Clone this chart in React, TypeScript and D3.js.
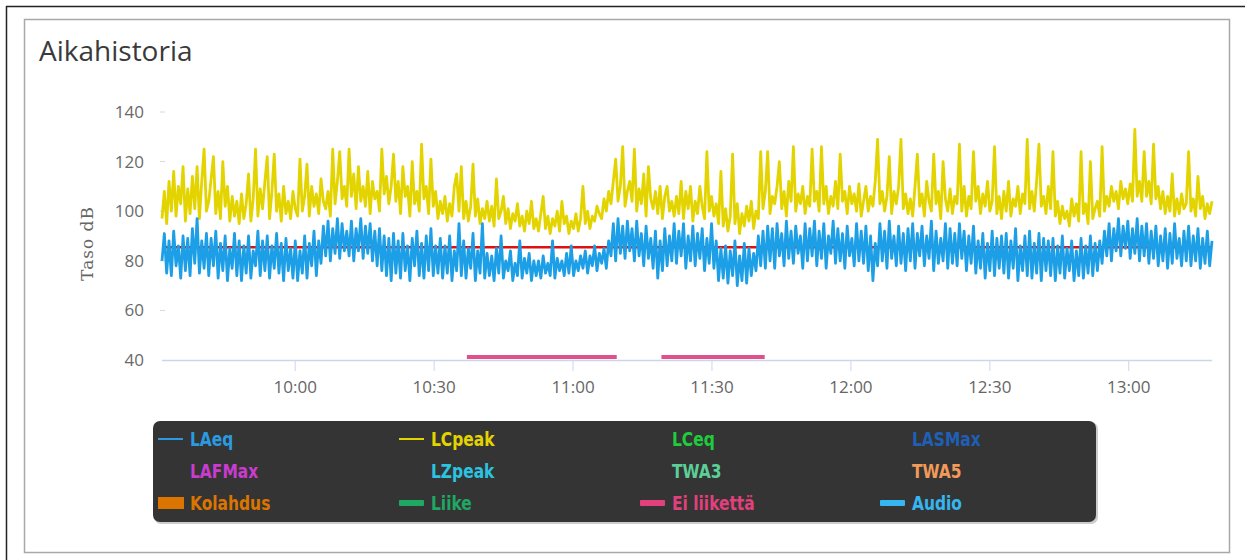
import React, { useEffect, useRef } from 'react'

import * as d3 from 'd3'

// sampling of the level meter
const startTime = new Date(2020, 0, 1, 9, 31, 14)
const stepSeconds = 30.3

// LCpeak, dB (yellow)
const lcpeak = [
  97, 108, 95, 112, 100, 116, 98, 110, 103, 118, 96, 109, 99, 114, 101, 118, 97, 112, 125, 100,
  104, 113, 122, 99, 108, 97, 120, 102, 110, 96, 106, 98, 104, 95, 107, 97, 103, 115, 96, 105,
  125, 98, 109, 101, 112, 122, 97, 108, 123, 100, 107, 96, 110, 99, 104, 97, 108, 101, 98, 121,
  100, 106, 119, 98, 110, 102, 107, 99, 113, 104, 101, 108, 98, 125, 103, 112, 124, 105, 110, 102,
  125, 106, 115, 101, 118, 104, 110, 102, 116, 99, 112, 105, 108, 100, 125, 107, 114, 103, 110, 123,
  104, 112, 99, 118, 106, 110, 98, 120, 103, 108, 100, 127, 105, 110, 99, 121, 102, 108, 97, 104,
  99, 106, 96, 103, 98, 110, 115, 100, 118, 97, 104, 96, 102, 119, 98, 105, 95, 101, 97, 104,
  96, 102, 94, 113, 97, 100, 106, 95, 101, 93, 99, 96, 103, 94, 98, 92, 100, 95, 104, 93,
  97, 92, 99, 106, 93, 98, 91, 97, 94, 100, 92, 104, 95, 98, 91, 96, 93, 99, 92, 97,
  110, 95, 100, 93, 98, 96, 102, 99, 97, 105, 100, 108, 103, 112, 121, 104, 110, 126, 102, 108,
  112, 104, 125, 100, 109, 103, 115, 98, 118, 105, 101, 108, 99, 110, 97, 106, 110, 100, 104, 98,
  106, 99, 112, 97, 108, 101, 110, 96, 104, 99, 110, 102, 97, 124, 100, 106, 98, 103, 95, 116,
  94, 101, 92, 98, 123, 95, 103, 91, 99, 94, 102, 96, 104, 93, 100, 97, 124, 101, 108, 124,
  99, 106, 103, 110, 120, 101, 108, 98, 112, 104, 126, 100, 107, 103, 110, 99, 106, 102, 125, 104,
  108, 100, 126, 103, 110, 99, 106, 102, 112, 101, 123, 104, 108, 99, 110, 103, 107, 100, 111, 98,
  104, 110, 100, 106, 102, 112, 129, 103, 108, 100, 106, 122, 99, 108, 103, 110, 129, 101, 107, 99,
  105, 98, 110, 123, 102, 107, 98, 112, 104, 100, 123, 103, 108, 97, 120, 105, 100, 109, 99, 106,
  103, 127, 100, 110, 98, 106, 101, 124, 104, 110, 99, 107, 102, 112, 100, 104, 126, 99, 106, 97,
  108, 100, 112, 98, 105, 102, 110, 99, 107, 103, 129, 101, 108, 100, 112, 127, 102, 106, 99, 110,
  101, 124, 98, 104, 95, 102, 97, 100, 94, 105, 98, 103, 96, 124, 99, 103, 95, 120, 97, 101,
  104, 98, 126, 100, 106, 102, 110, 104, 108, 101, 112, 105, 109, 103, 111, 104, 133, 106, 112, 104,
  124, 106, 112, 103, 127, 105, 110, 101, 108, 99, 106, 100, 115, 98, 105, 99, 107, 101, 103, 124,
  100, 105, 98, 114, 101, 106, 97, 103, 99, 104,
]

// LAeq, dB (blue)
const laeq = [
  80, 91, 75, 88, 74, 92, 78, 86, 73, 90, 76, 89, 74, 93, 79, 97, 75, 88, 77, 91,
  74, 89, 78, 92, 73, 87, 76, 90, 72, 85, 77, 91, 74, 88, 72, 86, 75, 90, 73, 84,
  78, 92, 74, 88, 76, 90, 73, 86, 77, 91, 75, 87, 72, 89, 76, 85, 73, 88, 72, 84,
  75, 90, 73, 87, 78, 92, 74, 88, 79, 94, 82, 96, 80, 93, 83, 97, 81, 95, 84, 92,
  82, 96, 80, 93, 84, 97, 81, 94, 83, 95, 80, 92, 78, 93, 76, 90, 74, 89, 72, 91,
  75, 88, 73, 91, 76, 86, 72, 89, 78, 92, 74, 87, 73, 90, 76, 93, 74, 86, 75, 89,
  73, 86, 75, 90, 72, 84, 76, 95, 74, 88, 73, 85, 77, 91, 72, 84, 75, 95, 73, 83,
  74, 82, 72, 85, 75, 90, 73, 80, 76, 84, 72, 79, 74, 88, 73, 81, 75, 83, 72, 80,
  74, 80, 73, 82, 75, 79, 74, 88, 73, 81, 76, 80, 74, 83, 75, 86, 74, 80, 76, 82,
  77, 84, 75, 82, 78, 86, 76, 83, 79, 85, 77, 88, 82, 95, 80, 97, 83, 94, 81, 96,
  84, 93, 80, 96, 82, 91, 78, 94, 81, 89, 77, 92, 73, 88, 76, 93, 78, 90, 80, 95,
  79, 92, 82, 95, 77, 90, 80, 94, 78, 91, 81, 93, 76, 89, 79, 95, 77, 88, 72, 85,
  73, 86, 71, 84, 74, 88, 70, 82, 72, 87, 71, 85, 74, 83, 76, 90, 78, 92, 77, 94,
  80, 93, 77, 95, 82, 91, 78, 96, 81, 92, 79, 94, 83, 90, 77, 95, 80, 93, 82, 96,
  78, 92, 81, 95, 77, 90, 83, 96, 79, 93, 80, 91, 77, 94, 82, 89, 78, 95, 80, 92,
  79, 94, 76, 90, 72, 87, 78, 95, 80, 92, 77, 96, 81, 90, 78, 94, 79, 91, 76, 93,
  80, 95, 77, 91, 82, 94, 78, 90, 81, 96, 76, 92, 79, 89, 80, 95, 77, 93, 79, 91,
  78, 95, 81, 92, 76, 90, 79, 94, 75, 88, 77, 91, 73, 87, 76, 92, 74, 89, 77, 90,
  75, 91, 73, 88, 77, 93, 72, 86, 76, 90, 74, 92, 73, 87, 75, 91, 72, 89, 76, 88,
  74, 89, 72, 86, 75, 90, 73, 85, 76, 88, 72, 84, 74, 89, 73, 86, 75, 90, 74, 87,
  76, 88, 79, 92, 82, 95, 80, 93, 84, 97, 82, 94, 85, 96, 81, 93, 83, 97, 80, 94,
  82, 95, 79, 92, 81, 94, 78, 90, 80, 93, 77, 91, 79, 95, 81, 89, 78, 92, 80, 94,
  78, 90, 80, 93, 77, 89, 79, 92, 78, 88,
]

const limitLevel = 85.5

// "Ei liikettä" periods
const noMotionStart = ['10:37:04', '11:19:05']
const noMotionEnd = ['11:09:26', '11:41:23']

const yTicks = [40, 60, 80, 100, 120, 140]

const legendNames = [
  'LAeq', 'LCpeak', 'LCeq', 'LASMax',
  'LAFMax', 'LZpeak', 'TWA3', 'TWA5',
  'Kolahdus', 'Liike', 'Ei liikettä', 'Audio',
]
const legendColors = [
  '#2a9be0', '#e3d400', '#1fcc3e', '#1f5fb5',
  '#c93ccf', '#2bc3e0', '#5ccf98', '#f29a5a',
  '#dc7400', '#1ea862', '#e0407c', '#35b6f0',
]
const legendSymbols = [
  'line', 'line', '', '',
  '', '', '', '',
  'rect', 'bar', 'bar', 'bar',
]

const parseClock = d3.timeParse('%H:%M:%S')
const atDay = (s) => {
  const t = parseClock(s)
  return new Date(2020, 0, 1, t.getHours(), t.getMinutes(), t.getSeconds())
}

const App = () => {
  const svgRef = useRef()

  useEffect(() => {
    document.body.style.margin = '0'
    const width = 1245
    const height = 560
    const plot = { left: 162, right: 1212, top: 112, bottom: 360 }

    const svg = d3.select(svgRef.current)
    svg.selectAll('*').remove()
    svg.attr('width', width).attr('height', height)

    const times = lcpeak.map((_, i) => new Date(startTime.getTime() + i * stepSeconds * 1000))

    const x = d3
      .scaleTime()
      .domain([times[0], times[times.length - 1]])
      .range([plot.left, plot.right])
    const y = d3.scaleLinear().domain([40, 140]).range([plot.bottom, plot.top])

    // frames
    svg.append('line').attr('x1', 6).attr('x2', width).attr('y1', 6.5).attr('y2', 6.5)
      .attr('stroke', '#222').attr('stroke-width', 1.5)
    svg.append('line').attr('x1', 6.5).attr('x2', 6.5).attr('y1', 6).attr('y2', height)
      .attr('stroke', '#222').attr('stroke-width', 1.5)
    svg.append('rect').attr('x', 24.5).attr('y', 19.5).attr('width', 1205).attr('height', 533)
      .attr('fill', 'none').attr('stroke', '#a8a8a8').attr('stroke-width', 1.5)

    // title
    svg.append('text').attr('x', 39).attr('y', 61)
      .style('font-family', '"Open Sans", sans-serif').style('font-size', '28px')
      .attr('fill', '#3a3a3a').text('Aikahistoria')

    // y axis
    const yAxis = svg.append('g')
    yAxis.selectAll('text').data(yTicks).enter().append('text')
      .attr('x', 144).attr('y', (d) => y(d) + 6)
      .attr('text-anchor', 'end')
      .style('font-family', '"Open Sans", sans-serif').style('font-size', '17px')
      .attr('fill', '#6a6a6a').text((d) => d)
    yAxis.selectAll('line').data(yTicks.slice(1)).enter().append('line')
      .attr('x1', 160).attr('x2', 165).attr('y1', (d) => y(d)).attr('y2', (d) => y(d))
      .attr('stroke', '#d8d8d8')
    svg.append('text')
      .attr('transform', `translate(93, ${y(87)}) rotate(-90)`)
      .attr('text-anchor', 'middle')
      .style('font-family', '"DejaVu Serif", serif').style('font-size', '17px')
      .style('letter-spacing', '1px')
      .attr('fill', '#666').text('Taso dB')

    // threshold
    svg.append('line')
      .attr('x1', plot.left).attr('x2', plot.right)
      .attr('y1', y(limitLevel)).attr('y2', y(limitLevel))
      .attr('stroke', '#e01010').attr('stroke-width', 2.5)

    const line = d3.line().x((d, i) => x(times[i])).y((d) => y(d))

    svg.append('path').datum(lcpeak).attr('d', line)
      .attr('fill', 'none').attr('stroke', legendColors[1]).attr('stroke-width', 2.8)
      .attr('stroke-linejoin', 'round')
    svg.append('path').datum(laeq).attr('d', line)
      .attr('fill', 'none').attr('stroke', '#1c9fe6').attr('stroke-width', 2.8)
      .attr('stroke-linejoin', 'round')

    // x axis
    svg.append('line').attr('x1', plot.left).attr('x2', plot.right)
      .attr('y1', plot.bottom + 0.5).attr('y2', plot.bottom + 0.5)
      .attr('stroke', '#ccd6eb').attr('stroke-width', 1.5)
    const xTicks = x.ticks(d3.timeMinute.every(30))
    const fmt = d3.timeFormat('%H:%M')
    const xAxis = svg.append('g')
    xAxis.selectAll('line').data(xTicks).enter().append('line')
      .attr('x1', (d) => x(d)).attr('x2', (d) => x(d))
      .attr('y1', plot.bottom).attr('y2', plot.bottom + 11)
      .attr('stroke', '#ccd6eb')
    xAxis.selectAll('text').data(xTicks).enter().append('text')
      .attr('x', (d) => x(d)).attr('y', 393)
      .attr('text-anchor', 'middle')
      .style('font-family', '"Open Sans", sans-serif').style('font-size', '17px')
      .attr('fill', '#666').text((d) => fmt(d))

    // no-motion bands
    svg.append('g').selectAll('line').data(noMotionStart).enter().append('line')
      .attr('x1', (d) => x(atDay(d)))
      .attr('x2', (d, i) => x(atDay(noMotionEnd[i])))
      .attr('y1', plot.bottom - 3).attr('y2', plot.bottom - 3)
      .attr('stroke', '#e0508c').attr('stroke-width', 4)

    // legend
    const lg = svg.append('g')
    lg.append('rect').attr('x', 154).attr('y', 422).attr('width', 944).attr('height', 102)
      .attr('rx', 7).attr('fill', '#9a9a9a').attr('opacity', 0.5)
    lg.append('rect').attr('x', 153).attr('y', 421).attr('width', 943).attr('height', 101)
      .attr('rx', 7).attr('fill', '#343434')
    const colX = [158, 399, 640, 880]
    const rowY = [439, 471, 503]
    const item = lg.selectAll('g.item').data(legendNames).enter().append('g')
      .attr('transform', (d, i) => `translate(${colX[i % 4]}, ${rowY[Math.floor(i / 4)]})`)
    item.each(function (d, i) {
      const g = d3.select(this)
      const s = legendSymbols[i]
      if (s === 'line') {
        g.append('line').attr('x1', 0).attr('x2', 25).attr('y1', 0).attr('y2', 0)
          .attr('stroke', legendColors[i]).attr('stroke-width', 2)
      } else if (s === 'rect') {
        g.append('rect').attr('x', 0).attr('y', -6).attr('width', 26).attr('height', 12)
          .attr('fill', legendColors[i])
      } else if (s === 'bar') {
        g.append('rect').attr('x', 0).attr('y', -3).attr('width', 25).attr('height', 6)
          .attr('rx', 1).attr('fill', legendColors[i])
      }
      g.append('text').attr('transform', 'translate(32, 7) scale(0.86, 1)')
        .style('font-family', '"DejaVu Sans Condensed", "DejaVu Sans", sans-serif')
        .style('font-size', '20px').style('font-weight', 'bold')
        .attr('fill', legendColors[i]).text(d)
    })
  }, [])

  return <svg ref={svgRef} style={{ display: 'block' }}></svg>
}

export default App
